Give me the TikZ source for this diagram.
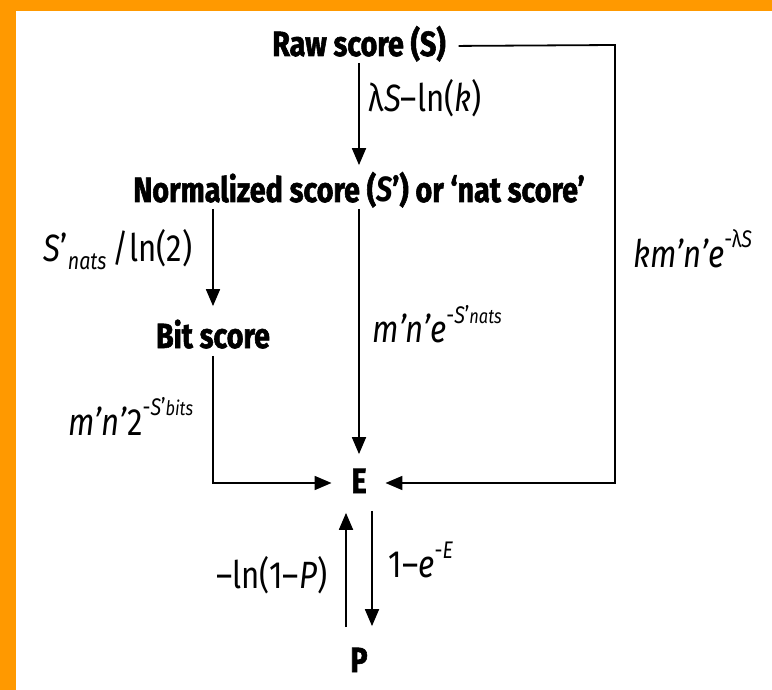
\documentclass[tikz,border=0pt]{standalone}
\usepackage{fontspec}
\setmainfont{Fira Sans}[FakeStretch=0.82,BoldFeatures={FakeBold=1.6}]
\usetikzlibrary{arrows.meta,positioning}
\definecolor{edgeorange}{HTML}{FF9900}
\tikzset{
  evd/.style={x=0.5pt,y=-0.5pt,line width=0.9pt,
    every node/.style={inner sep=0pt},
    conv/.style={-{Triangle[length=8.5pt,width=7pt]}},
    term/.style={anchor=base,font=\fontsize{17.5}{20}\selectfont\bfseries,text height=12pt,text depth=2pt},
    lbl/.style={font=\fontsize{19}{22}\selectfont}},
}
\newcommand{\hi}[1]{\raisebox{9.5pt}{\fontsize{12}{12}\selectfont #1}}
\newcommand{\lo}[1]{\raisebox{-4pt}{\fontsize{12}{12}\selectfont\itshape #1}}

\begin{document}
\begin{tikzpicture}[evd]
  \useasboundingbox (0,0) rectangle (772,690);
  \fill[edgeorange] (0,0) rectangle (16,690);
  \fill[edgeorange] (0,0) rectangle (772,11);

  \node[term] (raw) at (359,56) {Raw score (S)};
  \node[term] (nat) at (359,202) {Normalized score (\textit{S}’) or ‘nat score’};
  \node[term] (bit) at (213,348) {Bit score};
  \node[term] (ev) at (359,493) {E};
  \node[term] (pv) at (359,672) {P};
  \coordinate (rc) at (615,45);

  \node[lbl,anchor=base west] (lamlbl) at (368,112) {λ\textit{S}–ln(\textit{k})};
  \node[lbl,anchor=base east] (natlbl) at (193,262) {\textit{S}’\lo{nats}\,/ln(2)};
  \node[lbl,anchor=base west] (mnelbl) at (372,343) {\textit{m’n’e}\hi{-\textit{S}’{\fontsize{10}{10}\selectfont\itshape nats}}};
  \node[lbl,anchor=base east] (bitlbl) at (194,435) {\textit{m’n’}2\hi{-\textit{S}’{\fontsize{10}{10}\selectfont\itshape bits}}};
  \node[lbl,anchor=base west] (kmnlbl) at (633,267) {\textit{km’n’e}\hi{-λ\textit{S}}};
  \node[lbl,anchor=base east] (lnplbl) at (328,588) {–ln(1–\textit{P})};
  \node[lbl,anchor=base west] (elbl) at (388,577) {1–\textit{e}\hi{-\textit{E}}};

  \draw[conv,shorten <=1pt,shorten >=6pt] (raw) -- (nat);
  \draw[conv,shorten <=6pt,shorten >=9pt] (raw.east) -- (rc) |- (ev.east);
  \draw[conv,shorten <=1pt,shorten >=8.5pt] (nat.south -| bit) -- (bit.north);
  \draw[conv,shorten <=1pt,shorten >=7pt] (nat) -- (ev);
  \draw[conv,shorten <=1.5pt,shorten >=9.5pt] (bit.south) |- (ev.west);
  \draw[conv,shorten <=10pt,shorten >=7.5pt] ([xshift=-6.5pt]pv.north) -- ([xshift=-6.5pt]ev.south);
  \draw[conv,shorten <=6.5pt,shorten >=10.5pt] ([xshift=6.5pt]ev.south) -- ([xshift=6.5pt]pv.north);
\end{tikzpicture}
\end{document}
